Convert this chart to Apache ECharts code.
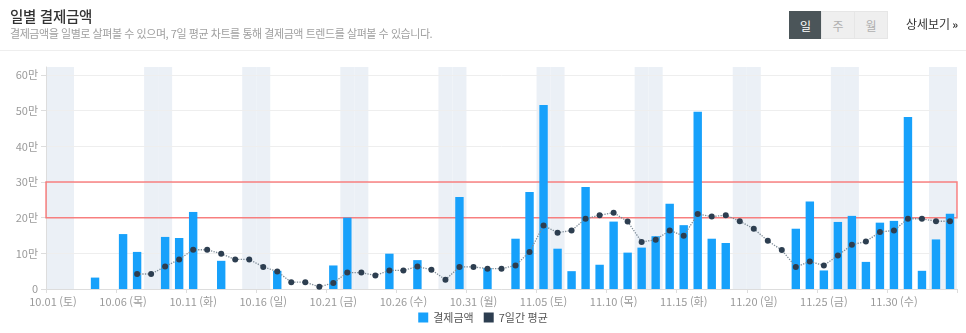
<!DOCTYPE html>
<html lang="ko">
<head>
<meta charset="utf-8">
<script src="https://cdn.jsdelivr.net/npm/echarts@6/dist/echarts.min.js"></script>
<style>
  html, body { margin: 0; padding: 0; background: #fff; }
  body { width: 966px; height: 333px; position: relative; overflow: hidden;
         font-family: "Noto Sans CJK KR", "Noto Sans", sans-serif; }
  #chart { position: absolute; left: 0; top: 0; width: 966px; height: 333px; }
  .head { position: absolute; left: 0; top: 0; width: 966px; height: 50px; border-bottom: 1px solid #eeeeee; }
  .title { position: absolute; left: 10px; top: 5px; font-size: 14.5px; color: #333; font-weight: 500; letter-spacing: -0.3px; }
  .sub { position: absolute; left: 10px; top: 25px; font-size: 11px; color: #a0a0a0; letter-spacing: -0.45px; }
  .tabs { position: absolute; left: 789px; top: 11px; display: flex; }
  .tab { width: 34px; height: 28px; line-height: 28px; text-align: center; font-size: 12px;
         background: #efefef; color: #b0b0b0; border: 1px solid #e6e6e6; box-sizing: border-box; margin-left: -1px; }
  .tab.on { background: #4b5559; color: #fff; border-color: #4b5559; margin-left: 0; width: 33px; }
  .more { position: absolute; left: 906px; top: 15px; font-size: 12px; color: #333; }
  .more b { font-size: 11px; margin-left: 2px; }
</style>
</head>
<body>
<div id="chart"></div>
<div class="head">
  <div class="title">일별 결제금액</div>
  <div class="sub">결제금액을 일별로 살펴볼 수 있으며, 7일 평균 차트를 통해 결제금액 트렌드를 살펴볼 수 있습니다.</div>
  <div class="tabs"><div class="tab on">일</div><div class="tab">주</div><div class="tab">월</div></div>
  <div class="more">상세보기<b>»</b></div>
</div>
<script>
// Daily dates, 2022-10-01 .. 2022-12-04
const categories = [
  '10.01 (토)','10.02 (일)','10.03 (월)','10.04 (화)','10.05 (수)','10.06 (목)','10.07 (금)',
  '10.08 (토)','10.09 (일)','10.10 (월)','10.11 (화)','10.12 (수)','10.13 (목)','10.14 (금)',
  '10.15 (토)','10.16 (일)','10.17 (월)','10.18 (화)','10.19 (수)','10.20 (목)','10.21 (금)',
  '10.22 (토)','10.23 (일)','10.24 (월)','10.25 (화)','10.26 (수)','10.27 (목)','10.28 (금)',
  '10.29 (토)','10.30 (일)','10.31 (월)','11.01 (화)','11.02 (수)','11.03 (목)','11.04 (금)',
  '11.05 (토)','11.06 (일)','11.07 (월)','11.08 (화)','11.09 (수)','11.10 (목)','11.11 (금)',
  '11.12 (토)','11.13 (일)','11.14 (월)','11.15 (화)','11.16 (수)','11.17 (목)','11.18 (금)',
  '11.19 (토)','11.20 (일)','11.21 (월)','11.22 (화)','11.23 (수)','11.24 (목)','11.25 (금)',
  '11.26 (토)','11.27 (일)','11.28 (월)','11.29 (화)','11.30 (수)','12.01 (목)','12.02 (금)',
  '12.03 (토)','12.04 (일)'
];

// Daily payment amount, in 만원
const payment = [
  0, 0, 0, 3.2, 0, 15.4, 10.4,
  0, 14.6, 14.3, 21.6, 0, 7.9, 0,
  0, 0, 5.1, 0, 0, 0, 6.6,
  20.0, 0, 0, 9.9, 0, 8.1, 0,
  0, 25.8, 0, 5.9, 0, 14.1, 27.2,
  51.6, 11.3, 5.0, 28.6, 6.8, 18.9, 10.2,
  11.6, 14.8, 23.9, 17.9, 49.7, 14.1, 12.9,
  0, 0, 0, 0, 16.9, 24.5, 5.2,
  18.8, 20.5, 7.6, 18.6, 19.1, 48.2, 5.1,
  13.9, 21.1
];

// 7-day average, in 만원 (first full window ends on 10.07)
const avg7 = [
  null, null, null, null, null, null, 4.2,
  4.2, 6.3, 8.3, 11.0, 11.0, 9.9, 8.3,
  8.3, 6.2, 4.9, 1.9, 1.9, 0.6, 1.7,
  4.6, 4.6, 3.8, 5.2, 5.2, 6.3, 5.4,
  2.6, 6.2, 6.2, 5.7, 5.7, 6.6, 10.4,
  17.8, 15.8, 16.4, 19.7, 20.7, 21.4, 18.9,
  13.2, 13.8, 16.4, 14.9, 21.0, 20.3, 20.7,
  19.0, 16.9, 13.5, 10.9, 6.2, 7.7, 6.6,
  9.4, 12.4, 13.3, 16.0, 16.4, 19.7, 19.7,
  19.0, 19.0
];

// Highlighted target band, in 만원
const bandLow = 20;
const bandHigh = 30;

const MAN = 10000;
const weekend = categories.map(c => (c.indexOf('(토)') >= 0 || c.indexOf('(일)') >= 0) ? 1 : '-');

const chart = echarts.init(document.getElementById('chart'), null, { renderer: 'canvas' });
const font = '"Noto Sans CJK KR", "Noto Sans", sans-serif';

chart.setOption({
  animation: false,
  textStyle: { fontFamily: font },
  legend: {
    data: ['결제금액', '7일간 평균'],
    bottom: 5,
    left: 'center',
    icon: 'rect',
    itemWidth: 10,
    itemHeight: 10,
    itemGap: 10,
    textStyle: { fontSize: 11, color: '#555', fontFamily: font }
  },
  grid: [
    { left: 46, right: 9, top: 75, bottom: 44 },
    { left: 46, right: 9, top: 67, bottom: 44 }
  ],
  xAxis: [
    {
      type: 'category', gridIndex: 0, data: categories,
      axisLine: { lineStyle: { color: '#dddddd' } },
      axisTick: { show: true, length: 4, lineStyle: { color: '#dddddd' } },
      axisLabel: { interval: 4, color: '#9a9a9a', fontSize: 11, margin: 7, fontFamily: font }
    },
    {
      type: 'category', gridIndex: 1, data: categories, show: false
    }
  ],
  yAxis: [
    {
      type: 'value', gridIndex: 0, min: 0, max: 60 * MAN, interval: 10 * MAN,
      axisLine: { show: false },
      axisTick: { show: true, length: 5, lineStyle: { color: '#dddddd' } },
      splitLine: { lineStyle: { color: '#eeeeee' } },
      axisLabel: {
        color: '#9a9a9a', fontSize: 11, margin: 8, fontFamily: font,
        formatter: v => v === 0 ? '0' : (v / MAN) + '만'
      }
    },
    {
      type: 'value', gridIndex: 1, min: 0, max: 1,
      axisLine: { show: true, lineStyle: { color: '#dddddd' } },
      axisTick: { show: false }, axisLabel: { show: false }, splitLine: { show: false }
    }
  ],
  series: [
    {
      name: 'weekend', type: 'bar', xAxisIndex: 1, yAxisIndex: 1,
      data: weekend, barWidth: '100%', barGap: '0%', z: -1, silent: true,
      itemStyle: { color: '#ebf0f6' }
    },
    {
      name: '결제금액', type: 'bar', xAxisIndex: 0, yAxisIndex: 0,
      data: payment.map(v => v * MAN), barWidth: '60%', z: 3,
      itemStyle: { color: '#17a1fb' },
      markArea: {
        silent: true,
        itemStyle: { color: 'rgba(0,0,0,0)', borderColor: 'rgba(250,90,90,0.75)', borderWidth: 1.5 },
        data: [[{ yAxis: bandLow * MAN }, { yAxis: bandHigh * MAN }]]
      }
    },
    {
      name: '7일간 평균', type: 'line', xAxisIndex: 0, yAxisIndex: 0,
      data: avg7.map(v => v == null ? '-' : v * MAN), z: 4,
      symbol: 'circle', symbolSize: 6, showSymbol: true,
      itemStyle: { color: '#2d3e50' },
      lineStyle: { color: '#7d8b97', width: 1.3, type: 'dotted' }
    }
  ]
});
</script>
</body>
</html>
